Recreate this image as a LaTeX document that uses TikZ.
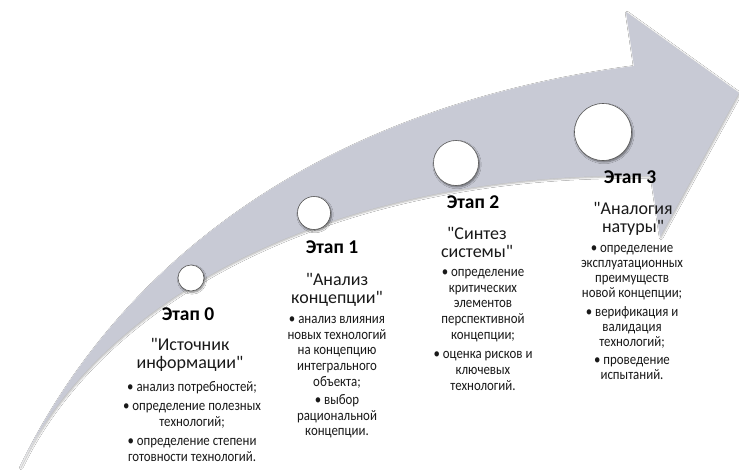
\documentclass[tikz,border=0pt]{standalone}
\usepackage{fontspec}
\newfontfamily\calfont{Carlito}
\newfontfamily\calnarrow{Carlito}[FakeStretch=0.87]
\usetikzlibrary{shadows.blur}
\definecolor{arrowgray}{RGB}{200,202,213}
\definecolor{txt}{RGB}{25,25,25}
\begin{document}
\begin{tikzpicture}[x=1pt,y=-1pt,
  stagetitle/.style={font=\calfont\fontsize{19.5}{20}\selectfont\bfseries, text=black, inner sep=0pt, anchor=north,
    execute at begin node=\strut},
  stagename/.style={font=\calfont\fontsize{18}{17.7}\selectfont, text=txt, align=center, inner sep=0pt, anchor=north,
    execute at begin node=\strut},
  stagelist/.style={font=\calnarrow\fontsize{14.8}{15.7}\selectfont, text=txt, align=center, inner sep=0pt, anchor=north,
    execute at begin node=\strut},
  milestone/.style={circle, fill=white, draw=gray!70!black, line width=0.6pt, inner sep=0pt,
    blur shadow={shadow xshift=1pt, shadow yshift=-1.5pt, shadow blur steps=6, shadow opacity=50}},
  bigarrow/.style={fill=arrowgray,
    blur shadow={shadow xshift=1pt, shadow yshift=-1pt, shadow blur steps=5, shadow opacity=30}}
]
\useasboundingbox (0,0) rectangle (739,471);
\fill[white] (0,0) rectangle (739,471);
% curved arrow
\path[bigarrow] (20,467) .. controls (110,280) and (300,110) .. (634,66)
  -- (626,12) -- (739,93) -- (660,237) -- (651,176)
  .. controls (330,170) and (100,300) .. (20,467) -- cycle;
% milestones
\node[milestone, minimum size=26pt] (c0) at (191,278) {};
\node[milestone, minimum size=33pt] (c1) at (314,213) {};
\node[milestone, minimum size=45pt] (c2) at (456,163) {};
\node[milestone, minimum size=57pt] (c3) at (603,132) {};
% stage 0
\node[stagetitle] (t0) at (188,306) {Этап 0};
\node[stagename] (q0) at (190,338) {"Источник\\информации"};
\node[stagelist] (l0) at (192,381) {• анализ потребностей;\\[3.5pt]
  • определение полезных\\технологий;\\[3.5pt]
  • определение степени\\готовности технологий.};
% stage 1
\node[stagetitle] (t1) at (332,239) {Этап 1};
\node[stagename] (q1) at (337,273) {"Анализ\\концепции"};
\node[stagelist] (l1) at (337,316) {• анализ влияния\\новых технологий\\на концепцию\\интегрального\\объекта;\\[2.5pt]
  • выбор\\рациональной\\концепции.};
% stage 2
\node[stagetitle] (t2) at (473,194) {Этап 2};
\node[stagename] (q2) at (477,227) {"Синтез\\системы"};
\node[stagelist] (l2) at (483,269) {• определение\\критических\\элементов\\перспективной\\концепции;\\[4pt]
  • оценка рисков и\\ключевых\\технологий.};
% stage 3
\node[stagetitle] (t3) at (630,169) {Этап 3};
\node[stagename] (q3) at (633,202) {"Аналогия\\натуры"};
\node[stagelist, font=\calnarrow\fontsize{14.8}{15.2}\selectfont] (l3) at (632,245) {• определение\\эксплуатационных\\преимуществ\\новой концепции;\\[3pt]
  • верификация и\\валидация\\технологий;\\[3pt]
  • проведение\\испытаний.};
\end{tikzpicture}
\end{document}
